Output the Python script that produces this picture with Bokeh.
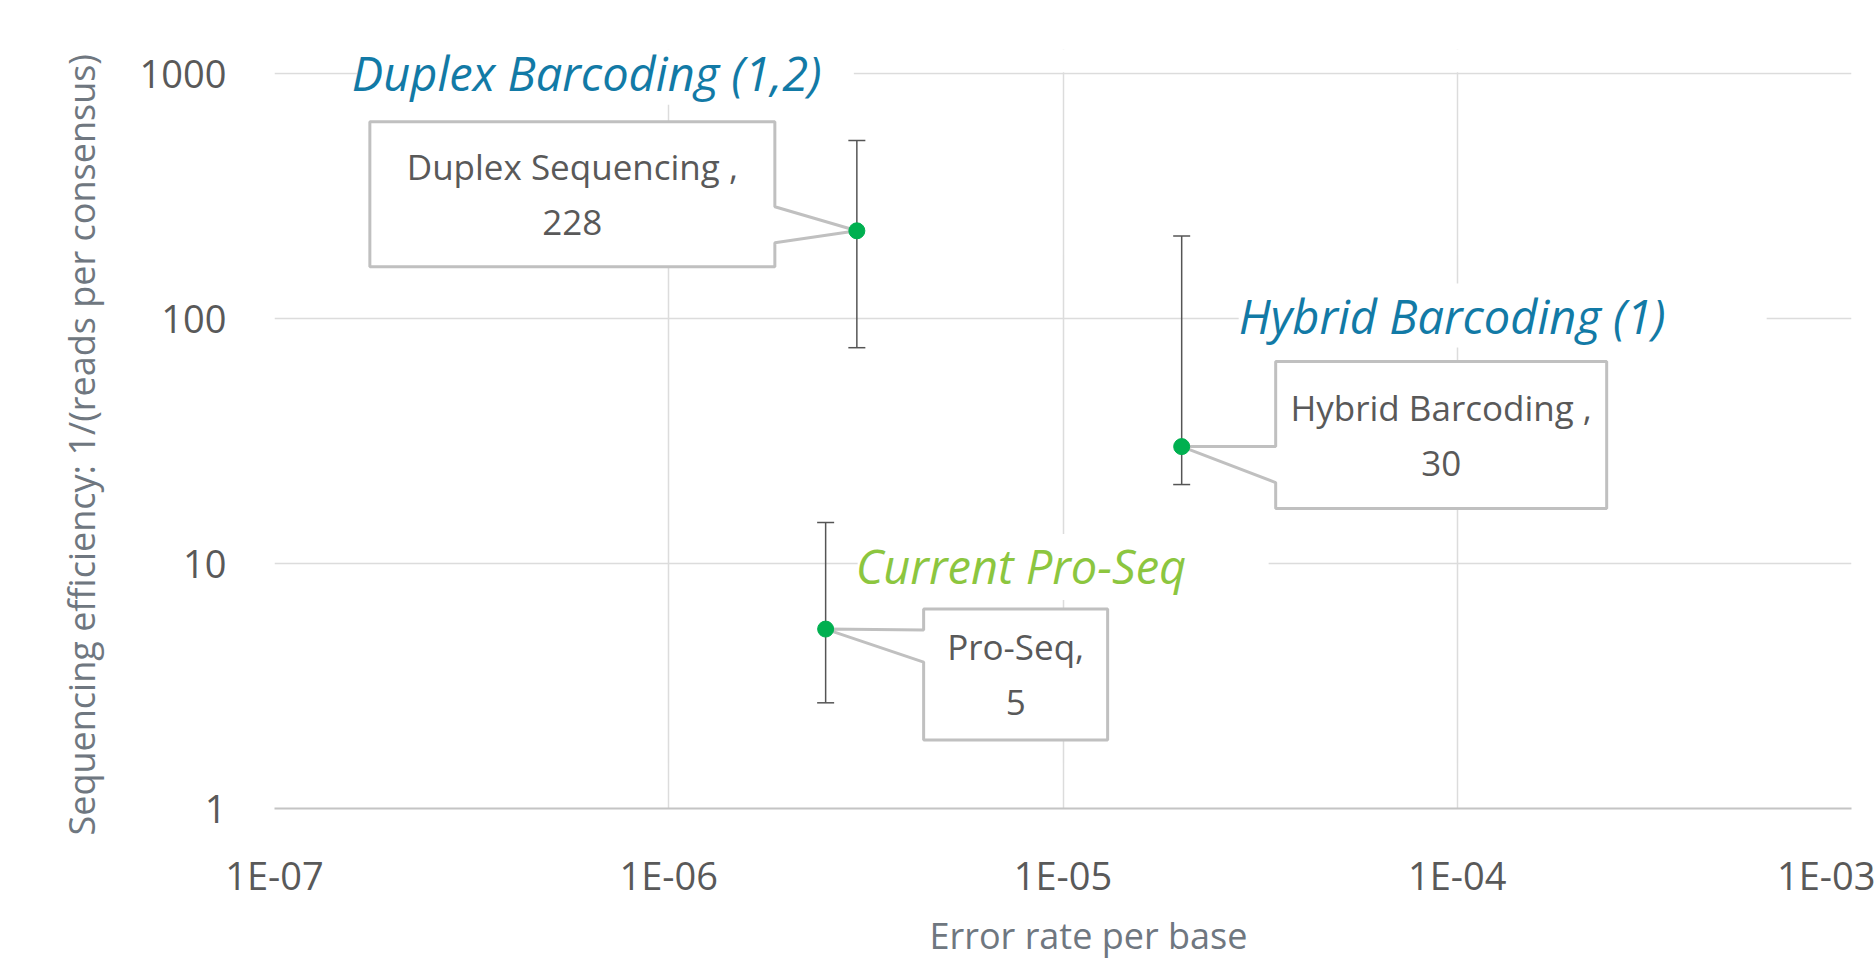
import numpy as np
from bokeh.plotting import figure
from bokeh.models import FixedTicker, Whisker, ColumnDataSource, Label, TeeHead, Title
from bokeh.core.properties import value
from bokeh.embed import file_html
from bokeh.resources import INLINE

# ---------------- data ----------------
methods = ["Duplex Sequencing", "Hybrid Barcoding", "Pro-Seq"]
error_rate = [3.0e-6, 2.0e-5, 2.5e-6]
efficiency = [228, 30, 5.4]
eff_low = [76, 21, 2.7]
eff_high = [533, 217, 14.7]
callout_sep = [" ,", " ,", ","]
group_titles = ["Duplex Barcoding (1,2)", "Hybrid Barcoding (1)", "Current Pro-Seq"]
x_ticks = [1e-7, 1e-6, 1e-5, 1e-4, 1e-3]
x_tick_labels = ["1E-07", "1E-06", "1E-05", "1E-04", "1E-03"]
y_ticks = [1, 10, 100, 1000]
y_tick_labels = ["1", "10", "100", "1000"]
x_title = "Error rate per base"
y_title = "Sequencing efficiency: 1/(reads per consensus)"

# ---------------- layout / style ----------------
W, H = 1875, 966
EXTRA = 24                      # room above the top gridline for the first title
ML, MR, MT, MB = 274, 24, 73 - EXTRA, 158
FW = W - ML - MR
FH0 = H - 73 - MB               # height of the 1..1000 band
DX = FW / (np.log10(x_ticks[-1]) - np.log10(x_ticks[0]))
DY = FH0 / (np.log10(y_ticks[-1]) - np.log10(y_ticks[0]))
Y_TOP = 10 ** (np.log10(y_ticks[-1]) + EXTRA / DY)

BLUE = "#127aa6"
GREEN_T = "#8cc63f"
GREY_TXT = "#595959"
AXIS_T = "#6f7780"
FONT = "Open Sans"

# callout boxes: pixel offsets from the point (left, right, top, bottom), wedge side, wedge y1, y2
callout_geom = [(-487, -82, -109, 36, "right", -24, 12),
                (94, 425, -85, 62, "left", 0, 36),
                (98, 282, -20, 111, "left", 1, 33)]
# titles: left x offset, centre y offset (px) from point
title_geom = [(-505, -158), (57, -131), (30, -63)]
# white text boxes behind the titles: left, right, top, bottom offsets (px) from point
title_box = [(-500, -3, -190, -126), (57, 585, -163, -99), (32, 443, -95, -29)]
title_colors = [BLUE, BLUE, GREEN_T]
LINE_GAP = 28


def shift(xv, yv, dx, dy):
    return 10 ** (np.log10(xv) + dx / DX), 10 ** (np.log10(yv) - dy / DY)


p = figure(width=W, height=H, x_axis_type="log", y_axis_type="log",
           x_range=(x_ticks[0], x_ticks[-1]), y_range=(y_ticks[0], Y_TOP),
           output_backend="svg", toolbar_location=None,
           min_border_left=ML, min_border_right=MR, min_border_top=MT, min_border_bottom=MB)
p.outline_line_color = None
p.background_fill_color = "white"
p.border_fill_color = "white"

p.xaxis.ticker = FixedTicker(ticks=x_ticks, minor_ticks=[])
p.yaxis.ticker = FixedTicker(ticks=y_ticks, minor_ticks=[])
p.xaxis.major_label_overrides = {t: l for t, l in zip(x_ticks, x_tick_labels)}
p.yaxis.major_label_overrides = {t: l for t, l in zip(y_ticks, y_tick_labels)}
for ax in (p.xaxis, p.yaxis):
    ax.major_tick_line_color = None
    ax.minor_tick_line_color = None
    ax.major_label_text_font = FONT
    ax.major_label_text_font_size = "38px"
    ax.major_label_text_color = GREY_TXT
p.xaxis.axis_line_color = "#c4c4c4"
p.xaxis.axis_line_width = 2
p.yaxis.axis_line_color = None
p.xaxis.major_label_standoff = 34
p.yaxis.major_label_standoff = 42

p.add_layout(Title(text=y_title, align="left", offset=-27, standoff=62,
                   text_font=FONT, text_font_size="36px", text_font_style="normal",
                   text_color=AXIS_T), "left")
p.add_layout(Title(text=x_title, align="left", offset=655, standoff=11,
                   text_font=FONT, text_font_size="36px", text_font_style="normal",
                   text_color=AXIS_T), "below")

p.grid.grid_line_color = "#dcdcdc"
p.grid.grid_line_width = 1.5

# blank band above the top gridline (room for the first title)
p.quad(left=[x_ticks[0]], right=[x_ticks[-1]], bottom=[10 ** (np.log10(y_ticks[-1]) + 1.2 / DY)],
       top=[Y_TOP], fill_color="white", line_color=None)

# white boxes behind the titles
bl, br, bt, bb = [], [], [], []
for xv, yv, (L, R, T, B) in zip(error_rate, efficiency, title_box):
    x0, y0 = shift(xv, yv, L, T)
    x1, y1 = shift(xv, yv, R, B)
    bl.append(x0); br.append(x1); bt.append(y0); bb.append(y1)
p.quad(left=bl, right=br, top=bt, bottom=bb, fill_color="white", line_color=None)

# callout shapes
xs, ys, tx, ty1, ty2 = [], [], [], [], []
for xv, yv, g in zip(error_rate, efficiency, callout_geom):
    L, R, T, B, side, w1, w2 = g
    if side == "right":
        pts = [(L, T), (R, T), (R, w1), (0, 0), (R, w2), (R, B), (L, B)]
    else:
        pts = [(L, T), (R, T), (R, B), (L, B), (L, w2), (0, 0), (L, w1)]
    cx, cy = zip(*[shift(xv, yv, a, b) for a, b in pts])
    xs.append(list(cx))
    ys.append(list(cy))
    mx = (L + R) / 2
    my = (T + B) / 2
    a, b1 = shift(xv, yv, mx, my - LINE_GAP)
    _, b2 = shift(xv, yv, mx, my + LINE_GAP)
    tx.append(a)
    ty1.append(b1)
    ty2.append(b2)

p.patches(xs, ys, fill_color="white", line_color="#c0c0c0", line_width=3)

src = ColumnDataSource(dict(x=error_rate, y=efficiency, low=eff_low, high=eff_high))
wh = Whisker(base="x", lower="low", upper="high", source=src, dimension="height",
             line_color="#555555", line_width=1.5,
             upper_head=TeeHead(size=17, line_color="#555555", line_width=1.5),
             lower_head=TeeHead(size=17, line_color="#555555", line_width=1.5))
p.add_layout(wh)

p.scatter("x", "y", source=src, size=16, fill_color="#00b050", line_color="#00b050")

line1 = [m + s for m, s in zip(methods, callout_sep)]
line2 = [f"{v:.0f}" for v in efficiency]
p.text(tx, ty1, text=line1, text_font=value(FONT), text_font_size="35px",
       text_color=GREY_TXT, text_align="center", text_baseline="middle")
p.text(tx, ty2, text=line2, text_font=value(FONT), text_font_size="35px",
       text_color=GREY_TXT, text_align="center", text_baseline="middle")

for xv, yv, t, (gx, gy), col in zip(error_rate, efficiency, group_titles, title_geom, title_colors):
    lx, ly = shift(xv, yv, gx, gy)
    p.add_layout(Label(x=lx, y=ly, text=t, text_font=FONT, text_font_style="italic",
                       text_font_size="47px", text_color=col, text_align="left",
                       text_baseline="middle"))

open("out.html", "w").write(file_html(p, INLINE))
